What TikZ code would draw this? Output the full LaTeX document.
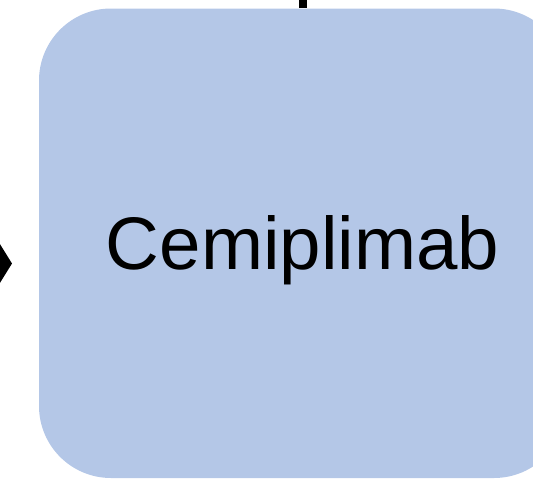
\documentclass[tikz,border=0pt]{standalone}
\usepackage{fontspec}
\setmainfont{Liberation Sans}
\usetikzlibrary{arrows.meta}
\definecolor{boxblue}{HTML}{B4C7E7}
\tikzset{
  drug/.style={fill=boxblue, draw=none, rounded corners=72pt, minimum width=527pt, minimum height=469.5pt, inner sep=0pt},
  drugtext/.style={font=\fontsize{74.5pt}{88pt}\selectfont, inner sep=0pt},
  link/.style={line width=8pt, draw=black}
}
\begin{document}
\begin{tikzpicture}[x=1pt,y=-1pt]
\useasboundingbox (0,0) rectangle (533,480);
\node[drug] (cemi) at (302.5,243.25) {};
\node[drugtext] (cemilabel) at (302.5,250.5) {Cemiplimab};
\coordinate (above) at (303,-40);
\coordinate (left) at (-60,263.5);
\coordinate (tip) at (12,263.5);
\draw[link] (above) -- (cemi.north -| above);
\draw[link, -{Triangle[length=22pt,width=70pt]}] (left) -- (tip);
\end{tikzpicture}
\end{document}
